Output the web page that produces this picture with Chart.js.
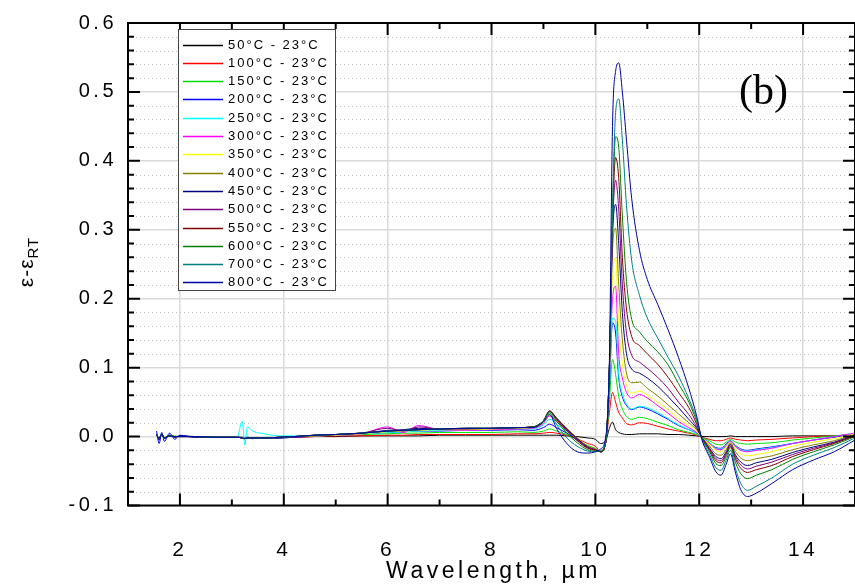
<!DOCTYPE html>
<html><head><meta charset="utf-8">
<script src="https://cdn.jsdelivr.net/npm/chart.js@4.4.1/dist/chart.umd.min.js"></script>
<style>html,body{margin:0;padding:0;background:#fff;overflow:hidden}#wrap{width:855px;height:587px;position:relative}</style>
</head><body><div id="wrap"><canvas id="c" width="855" height="587"></canvas></div>
<script>
// ---- data ----
const wavelength = [1.55,1.6,1.65,1.7,1.8,1.9,2.0, 2.3,2.7,3.1, 3.2,3.25,3.3,3.4,3.55,3.7,3.9, 4.2,4.6,5.0,5.5,
  6.0,6.3,6.6,7.0,7.5,8.0,8.5, 8.8,9.0,9.12,9.25,9.45,9.65,9.85, 10.0,10.1,10.2,10.27,10.33,10.39,10.45,
  10.52,10.6,10.7,10.85,11.0,11.2,11.4, 11.6,11.8,11.95,12.05,
  12.2,12.32,12.42,12.52,12.6,12.7,12.8,12.93, 13.1,13.4,13.8,14.2,14.6,15.0];

const xTickValues = [2,4,6,8,10,12,14];
const yTickValues = [-0.1,0.0,0.1,0.2,0.3,0.4,0.5,0.6];

const seriesLabels = ['50°C - 23°C','100°C - 23°C','150°C - 23°C','200°C - 23°C','250°C - 23°C','300°C - 23°C','350°C - 23°C',
  '400°C - 23°C','450°C - 23°C','500°C - 23°C','550°C - 23°C','600°C - 23°C','700°C - 23°C','800°C - 23°C'];

const s50 = [0.003,-0.004,0.003,-0.002,0.002,-0.001,0.001, 0.000,-0.001,-0.001, -0.001,-0.002,-0.001,-0.002,-0.002,-0.002,-0.002, -0.001,0.000,0.000,0.001,
  0.001,0.001,0.001,0.002,0.002,0.002,0.002, 0.002,0.002,0.002,0.002,0.001,0.000,-0.002, -0.004,-0.010,-0.006,0.012,0.021,0.010,0.006,
  0.004,0.003,0.003,0.004,0.004,0.004,0.003, 0.003,0.002,0.001,0.000,
  0.000,0.000,0.000,0.000,0.001,0.000,0.000,0.000, 0.000,0.000,0.001,0.001,0.001,0.002];
const s100 = [0.002,-0.003,0.003,-0.002,0.001,0.000,0.000, 0.000,-0.001,-0.001, -0.002,-0.003,-0.002,-0.002,-0.002,-0.002,-0.001, -0.001,0.000,0.001,0.001,
  0.002,0.002,0.003,0.003,0.003,0.003,0.004, 0.004,0.005,0.006,0.005,0.002,-0.003,-0.010, -0.014,-0.022,-0.008,0.035,0.064,0.050,0.035,
  0.027,0.019,0.017,0.020,0.019,0.015,0.011, 0.008,0.005,0.002,-0.001,
  -0.004,-0.006,-0.006,-0.004,-0.002,-0.004,-0.005,-0.006, -0.005,-0.004,-0.002,0.000,0.001,0.003];
const s150 = [0.003,-0.003,0.004,-0.002,0.001,0.001,0.000, 0.000,-0.001,-0.001, -0.002,-0.003,-0.002,-0.002,-0.002,-0.002,-0.001, 0.000,0.001,0.002,0.003,
  0.004,0.005,0.005,0.006,0.006,0.006,0.007, 0.006,0.008,0.011,0.008,0.003,-0.005,-0.013, -0.017,-0.022,-0.008,0.050,0.112,0.090,0.058,
  0.040,0.029,0.025,0.028,0.026,0.021,0.016, 0.010,0.006,0.003,-0.001,
  -0.006,-0.011,-0.012,-0.008,-0.004,-0.008,-0.010,-0.011, -0.010,-0.009,-0.005,-0.002,0.001,0.004];
const s200 = [0.008,-0.010,0.006,-0.007,0.005,-0.004,0.002, -0.001,-0.001,-0.001, -0.002,-0.003,-0.002,-0.003,-0.002,-0.002,-0.002, -0.001,0.001,0.002,0.004,
  0.006,0.007,0.008,0.008,0.009,0.009,0.010, 0.009,0.013,0.018,0.013,0.005,-0.005,-0.015, -0.018,-0.022,-0.008,0.070,0.165,0.150,0.085,
  0.058,0.045,0.039,0.043,0.040,0.033,0.025, 0.016,0.010,0.005,-0.001,
  -0.009,-0.016,-0.017,-0.011,-0.006,-0.013,-0.018,-0.020, -0.018,-0.015,-0.010,-0.005,-0.001,0.004];
const s250 = [0.002,-0.002,0.003,-0.002,0.001,0.000,0.000, 0.000,-0.001,-0.001, 0.022,-0.012,0.014,0.008,0.005,0.003,0.001, 0.001,0.001,0.002,0.004,
  0.006,0.007,0.008,0.009,0.009,0.010,0.011, 0.011,0.017,0.025,0.018,0.008,-0.004,-0.015, -0.018,-0.022,-0.008,0.075,0.172,0.168,0.090,
  0.062,0.047,0.040,0.044,0.042,0.035,0.026, 0.017,0.010,0.005,-0.001,
  -0.009,-0.017,-0.018,-0.012,-0.007,-0.014,-0.019,-0.021, -0.019,-0.016,-0.010,-0.005,0.000,0.005];
const s300 = [0.002,-0.002,0.003,-0.002,0.001,0.000,0.000, 0.000,-0.001,-0.001, -0.002,-0.003,-0.002,-0.002,-0.002,-0.002,-0.001, 0.000,0.001,0.002,0.004,
  0.014,0.006,0.016,0.010,0.009,0.010,0.011, 0.012,0.019,0.030,0.022,0.010,-0.003,-0.015, -0.018,-0.022,-0.008,0.085,0.200,0.218,0.120,
  0.085,0.064,0.056,0.061,0.056,0.045,0.034, 0.022,0.013,0.006,-0.001,
  -0.010,-0.018,-0.019,-0.013,-0.007,-0.015,-0.020,-0.022, -0.020,-0.017,-0.010,-0.005,0.000,0.005];
const s350 = [0.002,-0.002,0.003,-0.002,0.001,0.000,0.000, 0.000,-0.001,-0.001, -0.002,-0.003,-0.002,-0.002,-0.002,-0.002,-0.001, 0.000,0.001,0.002,0.004,
  0.007,0.008,0.009,0.010,0.010,0.011,0.012, 0.013,0.021,0.032,0.024,0.011,-0.002,-0.015, -0.018,-0.022,-0.008,0.095,0.230,0.260,0.160,
  0.105,0.075,0.063,0.066,0.060,0.050,0.039, 0.026,0.016,0.008,-0.001,
  -0.011,-0.020,-0.022,-0.015,-0.008,-0.018,-0.025,-0.028, -0.026,-0.022,-0.014,-0.008,-0.003,0.004];
const s400 = [0.002,-0.003,0.003,-0.001,0.001,0.000,0.000, 0.000,-0.001,-0.001, -0.002,-0.003,-0.002,-0.002,-0.002,-0.002,-0.001, 0.000,0.001,0.003,0.005,
  0.008,0.009,0.010,0.011,0.011,0.012,0.013, 0.014,0.023,0.036,0.027,0.012,-0.002,-0.014, -0.018,-0.022,-0.008,0.100,0.270,0.302,0.220,
  0.140,0.092,0.078,0.079,0.070,0.059,0.046, 0.033,0.020,0.010,-0.001,
  -0.014,-0.025,-0.027,-0.019,-0.009,-0.022,-0.031,-0.035, -0.032,-0.028,-0.019,-0.012,-0.006,0.003];
const s450 = [0.004,-0.005,0.004,-0.003,0.002,-0.001,0.001, -0.001,-0.001,-0.001, -0.002,-0.003,-0.002,-0.003,-0.002,-0.002,-0.002, 0.000,0.002,0.003,0.005,
  0.009,0.010,0.012,0.011,0.012,0.012,0.013, 0.014,0.023,0.037,0.027,0.011,-0.003,-0.015, -0.019,-0.022,-0.008,0.100,0.290,0.337,0.280,
  0.180,0.120,0.098,0.092,0.085,0.073,0.058, 0.042,0.025,0.012,-0.001,
  -0.017,-0.029,-0.032,-0.022,-0.011,-0.027,-0.037,-0.042, -0.038,-0.033,-0.023,-0.015,-0.008,0.002];
const s500 = [0.002,-0.002,0.003,-0.002,0.001,0.000,0.000, 0.000,-0.001,-0.001, -0.002,-0.003,-0.002,-0.002,-0.002,-0.002,-0.001, 0.000,0.002,0.003,0.005,
  0.012,0.008,0.014,0.011,0.011,0.012,0.013, 0.014,0.023,0.037,0.026,0.010,-0.004,-0.016, -0.019,-0.022,-0.008,0.100,0.300,0.372,0.330,
  0.220,0.150,0.118,0.108,0.099,0.086,0.070, 0.050,0.032,0.014,-0.001,
  -0.018,-0.032,-0.035,-0.024,-0.012,-0.030,-0.041,-0.047, -0.043,-0.037,-0.026,-0.017,-0.009,0.002];
const s550 = [0.002,-0.002,0.003,-0.002,0.001,0.000,0.000, 0.000,-0.001,-0.001, -0.002,-0.003,-0.002,-0.002,-0.002,-0.002,-0.001, 0.000,0.002,0.003,0.005,
  0.008,0.009,0.010,0.011,0.012,0.012,0.013, 0.014,0.023,0.037,0.025,0.008,-0.006,-0.017, -0.020,-0.022,-0.008,0.100,0.310,0.405,0.375,
  0.260,0.185,0.145,0.132,0.120,0.105,0.086, 0.064,0.042,0.018,-0.002,
  -0.020,-0.035,-0.038,-0.026,-0.014,-0.033,-0.046,-0.052, -0.048,-0.042,-0.029,-0.019,-0.010,0.001];
const s600 = [0.002,-0.002,0.003,-0.002,0.001,0.000,0.000, 0.000,-0.001,-0.001, -0.002,-0.003,-0.002,-0.002,-0.002,-0.002,-0.001, 0.000,0.002,0.003,0.005,
  0.008,0.009,0.010,0.011,0.012,0.012,0.013, 0.014,0.023,0.036,0.023,0.005,-0.009,-0.019, -0.021,-0.021,-0.006,0.100,0.320,0.435,0.420,
  0.320,0.225,0.170,0.152,0.138,0.123,0.104, 0.077,0.050,0.022,-0.002,
  -0.022,-0.039,-0.042,-0.029,-0.016,-0.038,-0.054,-0.061, -0.056,-0.048,-0.033,-0.022,-0.012,0.000];
const s700 = [0.002,-0.002,0.003,-0.002,0.001,0.000,0.000, 0.000,-0.001,-0.001, -0.002,-0.003,-0.002,-0.002,-0.002,-0.002,-0.001, 0.000,0.002,0.003,0.005,
  0.008,0.009,0.010,0.011,0.012,0.012,0.013, 0.013,0.022,0.034,0.018,-0.002,-0.014,-0.021, -0.022,-0.020,-0.005,0.100,0.330,0.470,0.490,
  0.430,0.335,0.255,0.205,0.172,0.143,0.115, 0.088,0.055,0.026,-0.003,
  -0.026,-0.045,-0.049,-0.034,-0.020,-0.047,-0.068,-0.078, -0.072,-0.060,-0.040,-0.027,-0.016,-0.002];
const s800 = [0.002,-0.002,0.003,-0.002,0.001,0.000,0.000, 0.000,-0.001,-0.001, -0.002,-0.003,-0.002,-0.002,-0.002,-0.002,-0.001, 0.000,0.002,0.003,0.005,
  0.008,0.009,0.010,0.011,0.012,0.012,0.013, 0.013,0.021,0.032,0.012,-0.010,-0.022,-0.024, -0.022,-0.018,0.000,0.110,0.450,0.530,0.542,
  0.500,0.430,0.345,0.270,0.228,0.192,0.155, 0.115,0.070,0.030,-0.004,
  -0.030,-0.051,-0.056,-0.040,-0.025,-0.053,-0.077,-0.087, -0.082,-0.068,-0.048,-0.034,-0.022,-0.005];

const seriesValues = [s50,s100,s150,s200,s250,s300,s350,s400,s450,s500,s550,s600,s700,s800];
// ---- styles ----
const seriesColors = ['#000000','#ff0000','#00e000','#0000ff','#00ffff','#ff00ff','#ffff00',
  '#808000','#000080','#800080','#800000','#008000','#008080','#0000a0'];

const SANS = '"Liberation Sans", Arial, sans-serif';

const datasets = seriesValues.map((vals, i) => ({
  label: seriesLabels[i],
  data: wavelength.map((x, k) => ({x: x, y: vals[k]})),
  borderColor: seriesColors[i],
  backgroundColor: seriesColors[i],
  borderWidth: 1,
  pointRadius: 0,
  cubicInterpolationMode: 'monotone',
  order: seriesValues.length - i
}));

const spacingPlugin = {
  id: 'spacing',
  beforeLayout(chart){ chart.ctx.letterSpacing = '3.5px'; },
  beforeDraw(chart){ chart.ctx.letterSpacing = '3.5px'; }
};

const decoPlugin = {
  id: 'deco',
  beforeDatasetsDraw(chart){
    const {ctx, chartArea:a, scales:{y}} = chart;
    ctx.save();
    ctx.strokeStyle = '#c4c4c4'; ctx.lineWidth = 1; ctx.setLineDash([1,3]);
    for (let k = -4; k <= 29; k++){
      if (k % 5 === 0) continue;
      const p = Math.round(y.getPixelForValue(k*0.02)) + 0.5;
      ctx.beginPath(); ctx.moveTo(a.left, p); ctx.lineTo(a.right, p); ctx.stroke();
    }
    ctx.restore();
  },
  afterDatasetsDraw(chart){
    const {ctx, chartArea:a, scales:{x, y}} = chart;
    ctx.save();
    ctx.strokeStyle = '#000'; ctx.lineWidth = 2;
    ctx.strokeRect(a.left, a.top, a.right - a.left, a.bottom - a.top);
    ctx.beginPath();
    for (let v = 1; v <= 15; v++){
      const px = x.getPixelForValue(v);
      const L = (v % 2 === 0) ? 12 : 6;
      ctx.moveTo(px, a.bottom); ctx.lineTo(px, a.bottom - L);
      ctx.moveTo(px, a.top); ctx.lineTo(px, a.top + L);
    }
    for (let k = -5; k <= 30; k++){
      const py = y.getPixelForValue(k*0.02);
      const L = (k % 5 === 0) ? 12 : 6;
      ctx.moveTo(a.left, py); ctx.lineTo(a.left + L, py);
      ctx.moveTo(a.right, py); ctx.lineTo(a.right - L, py);
    }
    ctx.stroke();
    ctx.restore();
  },
  afterDraw(chart){
    const {ctx, chartArea:a} = chart;
    ctx.save();
    // legend
    const bx = 178.5, by = 29.5, bw = 157, bh = 261;
    ctx.fillStyle = '#fff'; ctx.fillRect(bx, by, bw, bh);
    ctx.strokeStyle = '#444'; ctx.lineWidth = 1; ctx.setLineDash([]);
    ctx.strokeRect(bx, by, bw, bh);
    ctx.font = '13px ' + SANS; ctx.letterSpacing = '2px';
    ctx.textBaseline = 'middle'; ctx.textAlign = 'left'; ctx.fillStyle = '#000';
    chart.data.datasets.forEach((ds, i) => {
      const yy = 44.5 + i * 18.3;
      ctx.strokeStyle = ds.borderColor; ctx.lineWidth = 1.5;
      ctx.beginPath(); ctx.moveTo(183, Math.round(yy) + 0.5); ctx.lineTo(223, Math.round(yy) + 0.5); ctx.stroke();
      ctx.fillText(ds.label, 228, yy + 0.5);
    });
    // panel label
    ctx.letterSpacing = '0px';
    ctx.font = '42px "Liberation Serif", "Times New Roman", serif';
    ctx.textBaseline = 'alphabetic'; ctx.fillStyle = '#000';
    ctx.fillText('(b)', 739, 104);
    // x title
    ctx.font = '23px ' + SANS; ctx.letterSpacing = '3.5px'; ctx.textAlign = 'center';
    ctx.fillText('Wavelength, µm', (a.left + a.right) / 2 + 2, 578);
    // y title with subscript
    ctx.save();
    ctx.translate(33, 262); ctx.rotate(-Math.PI / 2);
    ctx.letterSpacing = '1px'; ctx.textAlign = 'left';
    ctx.font = '21px ' + SANS; const t1 = 'ε-ε'; const w1 = ctx.measureText(t1).width;
    ctx.font = '15px ' + SANS; const t2 = 'RT'; const w2 = ctx.measureText(t2).width;
    const x0 = -(w1 + w2) / 2;
    ctx.font = '21px ' + SANS; ctx.fillText(t1, x0, 0);
    ctx.font = '15px ' + SANS; ctx.fillText(t2, x0 + w1, 5);
    ctx.restore();
    ctx.restore();
  }
};

new Chart(document.getElementById('c'), {
  type: 'line',
  data: { datasets: datasets },
  options: {
    responsive: false,
    devicePixelRatio: 1,
    animation: false,
    events: [],
    layout: { padding: { left: 0, right: -2, top: 17, bottom: 0 } },
    plugins: { legend: { display: false }, tooltip: { enabled: false } },
    scales: {
      x: {
        type: 'linear', min: 1, max: 15,
        afterFit: s => { s.height = 81.5; },
        afterBuildTicks: s => { s.ticks = xTickValues.map(v => ({value: v})); },
        grid: { color: '#dadada', lineWidth: 1.5, drawTicks: false },
        border: { display: false },
        ticks: { autoSkip: false, maxRotation: 0, padding: 32, color: '#000',
          font: { family: SANS, size: 21 }, callback: v => String(v) }
      },
      y: {
        type: 'linear', min: -0.1, max: 0.6,
        afterFit: s => { s.width = 128; },
        afterBuildTicks: s => { s.ticks = yTickValues.map(v => ({value: v})); },
        grid: { color: '#dadada', lineWidth: 1.5, drawTicks: false },
        border: { display: false },
        ticks: { autoSkip: false, padding: 11, color: '#000',
          font: { family: SANS, size: 20 }, callback: v => v.toFixed(1) }
      }
    }
  },
  plugins: [spacingPlugin, decoPlugin]
});
</script>
</body></html>
